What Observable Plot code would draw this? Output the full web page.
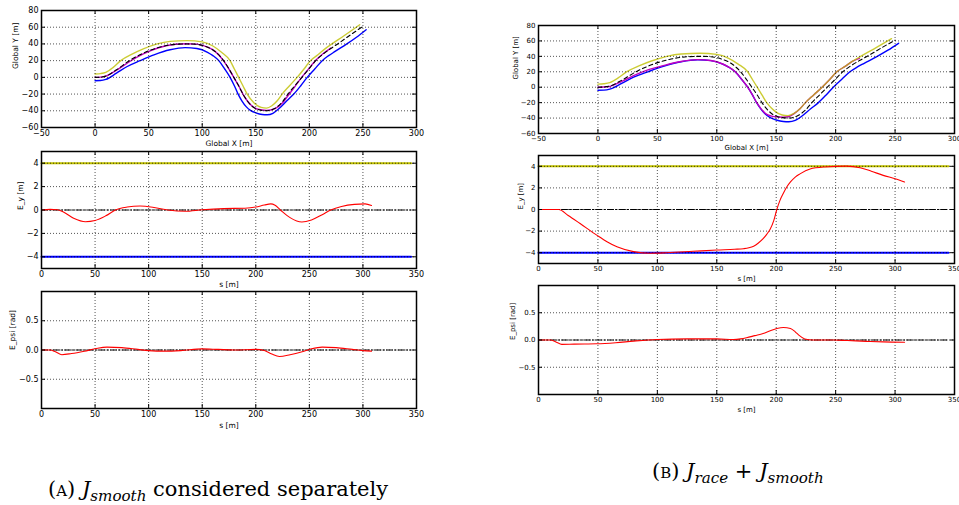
<!DOCTYPE html>
<html><head><meta charset="utf-8">
<script src="https://cdn.jsdelivr.net/npm/d3@7"></script>
<script src="https://cdn.jsdelivr.net/npm/@observablehq/plot@0.6"></script>
<style>
body{margin:0;background:#fff;}
#root{position:relative;width:959px;height:505px;overflow:hidden;background:#fff;}
.p{position:absolute;}
.cap{position:absolute;font-family:"DejaVu Serif",serif;font-size:21px;line-height:21px;white-space:nowrap;color:#000;}
.cap sub{font-size:0.72em;vertical-align:-0.3em;line-height:0;}
.sc{font-variant:small-caps;}
</style></head><body><div id="root"></div>
<script>
// ---------- track geometry (Global X / Global Y) ----------
const centerX = [0, 5, 10, 20, 32, 45, 60, 75, 85, 95, 105, 112, 120, 125, 129.5, 134, 138, 142, 146, 152, 160, 168, 175, 180, 186.5, 193, 199.5, 206, 213, 220, 227, 238, 250];
const centerY = [0, 0.3, 1.5, 9, 20, 29, 36, 39.5, 40, 39.5, 36, 31, 20, 10, 0, -10, -20, -28, -34, -38.5, -40, -37, -29, -20, -10, 0, 10, 20, 28, 34.5, 40.5, 50.5, 61];
const leftBoundX = [0, 5, 10, 17, 24, 35, 45, 58, 70, 86, 100, 110, 118, 126, 130, 134, 138, 142, 148, 155, 160, 165, 170, 174.6, 181.5, 188.6, 195, 201, 208, 214, 221, 232, 247];
const leftBoundY = [4, 4.5, 6, 12, 20, 28, 34, 40, 43, 44, 42.5, 37.5, 30, 20, 10, 0, -10, -20, -30, -36, -36.8, -34, -28, -20, -10, 0, 10, 20, 27, 33.5, 40, 49.5, 63];
const rightBoundX = [0, 5, 10, 20, 30, 42, 55, 70, 84, 95, 105, 110, 115.5, 121, 126, 130, 133.5, 137, 141, 145, 150, 156, 160.6, 166, 172, 179, 185.5, 192, 198, 205, 212, 218, 224, 235, 244, 253];
const rightBoundY = [-4, -3.8, -2.5, 5, 13, 20, 27, 33, 35.6, 34.5, 30, 26, 20, 10, 0, -10, -20, -28, -35, -39.5, -42.5, -44.5, -44.8, -43, -37, -28, -20, -10, 0, 10, 20, 26, 31, 40, 48, 57];
// vehicle path, case A (J_smooth only)
const pathAX = [0, 5, 10, 20, 32, 45, 60, 75, 85, 95, 105, 112, 120, 125, 129.5, 134, 138, 142, 146, 152, 160, 168, 175, 180, 186.5, 193, 199.5, 206, 213, 220];
const pathAY = [0, 0.3, 1.4, 8.5, 18.7, 28, 35.7, 39.6, 40.3, 39.8, 36.2, 31.1, 19.8, 9.9, -0.1, -10, -20, -28, -33.8, -38.1, -39.5, -37.3, -30.5, -22, -11, 0.3, 10.5, 20.4, 28.5, 35];
// vehicle path, case B (J_race + J_smooth)
const pathBX = [0, 5, 10, 20, 30, 42, 55, 70, 84, 95, 105, 110, 115.5, 121, 126, 130, 133.5, 137, 141, 146, 151, 156, 160, 165, 170, 174.6, 181.5, 188.6, 195, 201, 208, 214, 220];
const pathBY = [0, 0.2, 1, 7.5, 15, 22.5, 28, 33.3, 35.7, 34.6, 30.1, 26.1, 20.1, 10.1, 0.1, -9.9, -19.8, -27.5, -34, -37.5, -38.7, -38.9, -38.3, -34.3, -28, -20, -10, 0, 10, 20, 27, 33.5, 37.5];

// ---------- lateral error E_y ----------
const boundS = [0, 345];
const eyUpper = [4, 4];
const eyLower = [-4, -4];
const refZero = [0, 0];
const eyAS = [0, 8, 15, 20, 30, 41, 50, 60, 69, 80, 92, 105, 118, 134, 150, 170, 190, 200, 208, 214, 218, 223, 232, 243, 252, 262, 270, 280, 292, 302, 308];
const eyA  = [0, 0.05, 0.02, -0.15, -0.7, -1.0, -0.9, -0.5, 0, 0.25, 0.34, 0.22, 0, -0.11, 0.02, 0.12, 0.15, 0.25, 0.42, 0.52, 0.4, 0, -0.65, -1.03, -0.85, -0.4, 0, 0.3, 0.48, 0.52, 0.38];
const eyBS = [0, 8, 17, 25, 35, 49, 58, 66, 80, 94, 108, 130, 150, 165, 172.5, 177, 181, 185, 189, 192, 195, 198, 200.5, 203, 206, 209, 212, 216, 220, 228.5, 241, 259, 270.6, 280, 290, 300, 308];
const eyB  = [0, 0, 0, -0.55, -1.3, -2.37, -3.0, -3.45, -3.9, -4.05, -4.0, -3.87, -3.75, -3.68, -3.63, -3.55, -3.4, -3.1, -2.7, -2.3, -1.8, -1.0, 0, 0.8, 1.5, 2.1, 2.55, 3.0, 3.3, 3.75, 3.94, 4.02, 3.87, 3.55, 3.16, 2.85, 2.55];

// ---------- heading error E_psi ----------
const epsiAS = [0, 8, 13, 19, 28, 40, 50, 61, 75, 90, 100, 115, 130, 150, 165, 180, 200, 208, 215, 222, 232, 245, 252, 262, 275, 290, 300, 308];
const epsiA  = [0, 0, -0.03, -0.08, -0.06, -0.02, 0.02, 0.05, 0.04, 0.01, -0.01, -0.02, -0.01, 0.02, 0.01, 0, 0.01, -0.01, -0.07, -0.11, -0.08, -0.02, 0.02, 0.05, 0.04, 0.01, -0.01, -0.02];
const epsiBS = [0, 10, 15, 19.6, 30, 49, 65, 80, 100, 125, 150, 164, 170, 175, 182, 189, 195, 200.5, 206, 212, 216, 219, 224, 231, 248, 260, 276, 290, 308];
const epsiB  = [0, 0, -0.04, -0.08, -0.075, -0.07, -0.05, -0.02, 0.01, 0.02, 0.02, 0.01, 0.02, 0.04, 0.08, 0.12, 0.17, 0.21, 0.23, 0.21, 0.15, 0.09, 0.02, 0, 0, -0.01, -0.025, -0.035, -0.04];

// ---------- ticks & labels ----------
const xyXTicks = [-50, 0, 50, 100, 150, 200, 250, 300];
const xyYTicks = [-60, -40, -20, 0, 20, 40, 60, 80];
const sTicks = [0, 50, 100, 150, 200, 250, 300, 350];
const eyTicks = [-4, -2, 0, 2, 4];
const epsiTicks = [-0.5, 0, 0.5];
const captionA = "considered separately";

const YELLOW = "#bfbf00", BLUE = "#0000ff", MAGENTA = "#bf00bf", RED = "#ff0000";
const CURVE = "monotone-x";
const pts = (xs, ys) => xs.map((x, i) => ({x, y: ys[i]}));
const root = document.getElementById("root");

function panel(o) {
  const iw = o.width - o.ml - o.mr, ih = o.height - o.mt - o.mb;
  const gridStyle = {stroke: "#000", strokeOpacity: 0.85, strokeDasharray: "1,2", strokeWidth: 0.8};
  const chart = Plot.plot({
    width: o.width, height: o.height,
    marginLeft: o.ml, marginRight: o.mr, marginTop: o.mt, marginBottom: o.mb,
    x: {domain: o.xDomain}, y: {domain: o.yDomain},
    style: {fontFamily: "DejaVu Sans", fontSize: o.fs + "px", background: "transparent", overflow: "visible", color: "#000"},
    marks: [
      ...o.marks,
      Plot.gridX(o.xTicks, gridStyle),
      Plot.gridY(o.yTicks, gridStyle),
      ...(o.topMarks || []),
      Plot.ruleX(o.xTicks, {x: d => d, insetTop: ih - 4, stroke: "#000"}),
      Plot.ruleX(o.xTicks, {x: d => d, insetBottom: ih - 4, stroke: "#000"}),
      Plot.ruleY(o.yTicks, {y: d => d, insetLeft: iw - 4, stroke: "#000"}),
      Plot.ruleY(o.yTicks, {y: d => d, insetRight: iw - 4, stroke: "#000"}),
      Plot.frame({stroke: "#000", strokeWidth: 1.5}),
      Plot.axisX(o.xTicks, {tickSize: 0, tickPadding: 3, label: null, fontSize: o.fs}),
      Plot.axisY(o.yTicks, {tickSize: 0, tickPadding: 3, label: null, fontSize: o.fs, tickFormat: o.yFormat}),
      Plot.text([o.xLabel], {text: d => d, frameAnchor: "bottom", dy: o.xdy, lineAnchor: "middle", fontSize: o.lfs}),
      Plot.text([o.yLabel], {text: d => d, frameAnchor: "left", dx: o.ydx, rotate: -90, lineAnchor: "middle", fontSize: o.lfs})
    ]
  });
  const div = document.createElement("div");
  div.className = "p";
  div.style.left = o.left + "px";
  div.style.top = o.top + "px";
  div.appendChild(chart);
  root.appendChild(div);
}

function xyMarks(px, py) {
  return [
    Plot.line(pts(rightBoundX, rightBoundY), {x: "x", y: "y", stroke: BLUE, strokeWidth: 1.4, curve: CURVE}),
    Plot.line(pts(px, py), {x: "x", y: "y", stroke: MAGENTA, strokeWidth: 1.4, curve: CURVE}),
    Plot.line(pts(leftBoundX, leftBoundY), {x: "x", y: "y", stroke: YELLOW, strokeWidth: 1.4, strokeOpacity: 0.8, curve: CURVE}),
    Plot.line(pts(centerX, centerY), {x: "x", y: "y", stroke: "#000", strokeWidth: 1.1, strokeDasharray: "4,3", curve: CURVE})
  ];
}
function eyMarks() {
  return [
    Plot.line(pts(boundS, eyUpper), {x: "x", y: "y", stroke: YELLOW, strokeWidth: 2}),
    Plot.line(pts(boundS, eyLower), {x: "x", y: "y", stroke: BLUE, strokeWidth: 2})
  ];
}
function zeroRef() {
  return Plot.line(pts(boundS, refZero), {x: "x", y: "y", stroke: "#000", strokeWidth: 1, strokeDasharray: "6,2,1.5,2"});
}

// Column A
panel({left: 0, top: 0, width: 430, height: 148, ml: 41, mr: 14, mt: 10, mb: 21, fs: 8, lfs: 7.5,
  xDomain: [-50, 300], yDomain: [-60, 80], xTicks: xyXTicks, yTicks: xyYTicks,
  xLabel: "Global X [m]", yLabel: "Global Y [m]", xdy: 16, ydx: -26,
  marks: xyMarks(pathAX, pathAY)});
panel({left: 0, top: 148, width: 430, height: 140, ml: 41, mr: 14, mt: 3, mb: 20, fs: 8, lfs: 7.5,
  xDomain: [0, 350], yDomain: [-5, 5], xTicks: sTicks, yTicks: eyTicks,
  xLabel: "s [m]", yLabel: "E_y [m]", xdy: 16, ydx: -21,
  marks: eyMarks(),
  topMarks: [zeroRef(), Plot.line(pts(eyAS, eyA), {x: "x", y: "y", stroke: RED, strokeWidth: 1.1, curve: CURVE})]});
panel({left: 0, top: 288, width: 430, height: 152, ml: 41, mr: 14, mt: 3, mb: 32, fs: 8, lfs: 7.5,
  xDomain: [0, 350], yDomain: [-1, 1], xTicks: sTicks, yTicks: epsiTicks, yFormat: d3.format(".1f"),
  xLabel: "s [m]", yLabel: "E_psi [rad]", xdy: 17, ydx: -29,
  marks: [],
  topMarks: [zeroRef(), Plot.line(pts(epsiAS, epsiA), {x: "x", y: "y", stroke: RED, strokeWidth: 1.1, curve: CURVE})]});

// Column B
panel({left: 480, top: 0, width: 479, height: 152, ml: 58, mr: 5, mt: 25, mb: 19, fs: 7, lfs: 7,
  xDomain: [-50, 300], yDomain: [-60, 80], xTicks: xyXTicks, yTicks: xyYTicks,
  xLabel: "Global X [m]", yLabel: "Global Y [m]", xdy: 14, ydx: -23,
  marks: xyMarks(pathBX, pathBY)});
panel({left: 480, top: 152, width: 479, height: 128, ml: 58, mr: 5, mt: 3, mb: 17, fs: 7, lfs: 7,
  xDomain: [0, 350], yDomain: [-5, 5], xTicks: sTicks, yTicks: eyTicks,
  xLabel: "s [m]", yLabel: "E_y [m]", xdy: 15, ydx: -18,
  marks: eyMarks(),
  topMarks: [zeroRef(), Plot.line(pts(eyBS, eyB), {x: "x", y: "y", stroke: RED, strokeWidth: 1.1, curve: CURVE})]});
panel({left: 480, top: 280, width: 479, height: 135, ml: 58, mr: 5, mt: 5, mb: 21, fs: 7, lfs: 7,
  xDomain: [0, 350], yDomain: [-1, 1], xTicks: sTicks, yTicks: epsiTicks, yFormat: d3.format(".1f"),
  xLabel: "s [m]", yLabel: "E_psi [rad]", xdy: 15, ydx: -26,
  marks: [],
  topMarks: [zeroRef(), Plot.line(pts(epsiBS, epsiB), {x: "x", y: "y", stroke: RED, strokeWidth: 1.1, curve: CURVE})]});

// Captions
const capA = document.createElement("div");
capA.className = "cap";
capA.style.left = "48px"; capA.style.top = "479px";
capA.innerHTML = '<span class="sc">(a)</span> <i>J<sub>smooth</sub></i> ' + captionA;
root.appendChild(capA);
const capB = document.createElement("div");
capB.className = "cap";
capB.style.left = "652px"; capB.style.top = "461px";
capB.innerHTML = '<span class="sc">(b)</span> <i>J<sub>race</sub></i> + <i>J<sub>smooth</sub></i>';
root.appendChild(capB);
</script></body></html>
